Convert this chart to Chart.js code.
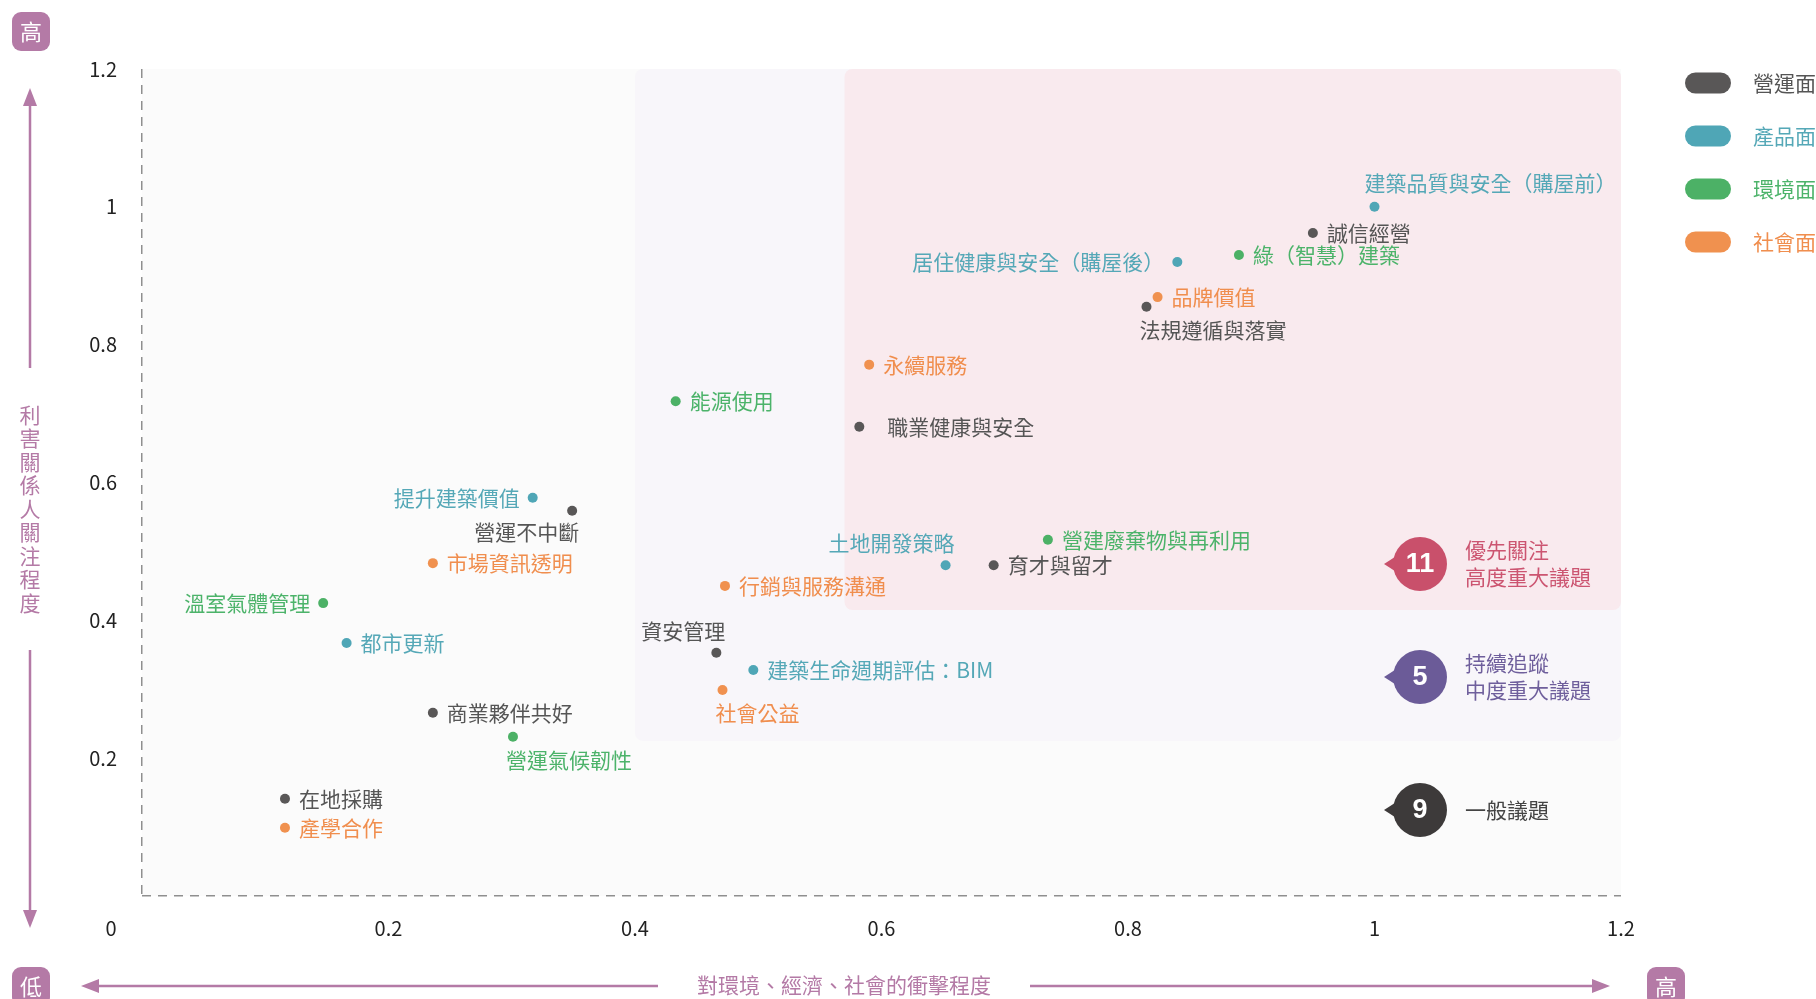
<!DOCTYPE html>
<html lang="zh-Hant">
<head>
<meta charset="utf-8">
<title>重大性議題矩陣</title>
<script src="https://cdn.jsdelivr.net/npm/chart.js@4.4.1/dist/chart.umd.min.js"></script>
<style>
html, body { margin: 0; padding: 0; background: #fff; overflow: hidden; }
#matrix-wrap { width: 1816px; height: 999px; }
canvas { display: block; }
</style>
</head>
<body>
<div id="matrix-wrap"><canvas id="matrix" width="1816" height="999"></canvas></div>
<script>
// ---- data ----
var categoryNames = ['營運面', '產品面', '環境面', '社會面'];

var topicNames = [
    '建築品質與安全（購屋前）', '誠信經營', '綠（智慧）建築', '居住健康與安全（購屋後）',
    '品牌價值', '法規遵循與落實', '永續服務', '能源使用', '職業健康與安全',
    '提升建築價值', '營運不中斷', '營建廢棄物與再利用', '土地開發策略', '育才與留才',
    '市場資訊透明', '行銷與服務溝通', '溫室氣體管理', '都市更新', '資安管理',
    '建築生命週期評估：BIM', '社會公益', '商業夥伴共好', '營運氣候韌性', '在地採購', '產學合作'
];
// x: 對環境、經濟、社會的衝擊程度
var impactValues = [
    1.0, 0.95, 0.89, 0.84,
    0.824, 0.815, 0.59, 0.433, 0.582,
    0.317, 0.349, 0.735, 0.652, 0.691,
    0.236, 0.473, 0.147, 0.166, 0.466,
    0.496, 0.471, 0.236, 0.301, 0.116, 0.116
];
// y: 利害關係人關注程度
var concernValues = [
    1.0, 0.962, 0.93, 0.92,
    0.869, 0.855, 0.771, 0.718, 0.681,
    0.578, 0.559, 0.517, 0.48, 0.48,
    0.483, 0.45, 0.425, 0.367, 0.353,
    0.328, 0.299, 0.266, 0.231, 0.141, 0.099
];
// index into categoryNames
var topicCategory = [
    1, 0, 2, 1,
    3, 0, 3, 2, 0,
    1, 0, 2, 1, 0,
    3, 3, 2, 1, 0,
    1, 3, 0, 2, 0, 3
];
// where each label sits next to its dot
var labelSide = [
    'a', 'r', 'r', 'l',
    'r', 'b', 'r', 'r', 'r2',
    'l', 'bl', 'r', 'al', 'r',
    'r', 'r', 'l', 'r', 'al',
    'r', 'b', 'r', 'b', 'r', 'r'
];

var xTickValues = [0, 0.2, 0.4, 0.6, 0.8, 1, 1.2];
var xTickLabels = ['0', '0.2', '0.4', '0.6', '0.8', '1', '1.2'];
var yTickValues = [0, 0.2, 0.4, 0.6, 0.8, 1, 1.2];
var yTickLabels = ['', '0.2', '0.4', '0.6', '0.8', '1', '1.2'];

var tierCounts = ['11', '5', '9'];
var tierLabels = [['優先關注', '高度重大議題'], ['持續追蹤', '中度重大議題'], ['一般議題']];

// zone thresholds (x from, y from) for the shaded areas
var highZone = [0.57, 0.415];
var midZone = [0.4, 0.225];

// ---- styling ----
var FONT = '"Noto Sans CJK TC", "Noto Sans", sans-serif';
var dotColors = ['#595757', '#4fa6b6', '#4cb166', '#f0914f'];
var textColors = ['#555555', '#55a8b7', '#4cb36a', '#f08e4e'];
var tierColors = ['#c9506b', '#6b5b98', '#3d3a3a'];
var tierTextColors = ['#cc5571', '#6f5f9c', '#444444'];
var accent = '#b47aa6';

function buildDatasets() {
    var sets = [];
    for (var c = 0; c < categoryNames.length; c++) {
        var pts = [];
        for (var i = 0; i < topicNames.length; i++) {
            if (topicCategory[i] !== c) continue;
            pts.push({ x: impactValues[i], y: concernValues[i], name: topicNames[i], side: labelSide[i] });
        }
        sets.push({
            label: categoryNames[c],
            data: pts,
            backgroundColor: dotColors[c],
            borderWidth: 0,
            pointRadius: 5,
            pointHoverRadius: 5
        });
    }
    return sets;
}

function roundRect(ctx, x, y, w, h, r) {
    ctx.beginPath();
    ctx.roundRect(x, y, w, h, r);
    ctx.fill();
}

// shaded zones behind the dots
var zonePlugin = {
    id: 'zones',
    beforeDraw: function(chart) {
        var ctx = chart.ctx, a = chart.chartArea;
        var sx = chart.scales.x, sy = chart.scales.y;
        ctx.save();
        ctx.fillStyle = '#fbfbfb';
        ctx.fillRect(a.left, a.top, a.right - a.left, a.bottom - a.top);
        var mx = sx.getPixelForValue(midZone[0]), my = sy.getPixelForValue(midZone[1]);
        ctx.fillStyle = '#f8f6fa';
        roundRect(ctx, mx, a.top, a.right - mx, my - a.top, 8);
        var hx = sx.getPixelForValue(highZone[0]), hy = sy.getPixelForValue(highZone[1]);
        ctx.fillStyle = '#f9eaee';
        roundRect(ctx, hx, a.top, a.right - hx, hy - a.top, 8);
        ctx.restore();
    }
};

// topic labels next to each dot
var labelPlugin = {
    id: 'topicLabels',
    afterDatasetsDraw: function(chart) {
        var ctx = chart.ctx;
        ctx.save();
        ctx.font = '21px ' + FONT;
        ctx.textBaseline = 'middle';
        chart.data.datasets.forEach(function(ds, di) {
            var meta = chart.getDatasetMeta(di);
            ctx.fillStyle = textColors[di];
            ds.data.forEach(function(p, j) {
                var el = meta.data[j];
                var x = el.x, y = el.y;
                switch (p.side) {
                    case 'l':  ctx.textAlign = 'right'; ctx.fillText(p.name, x - 13, y); break;
                    case 'a':  ctx.textAlign = 'left';  ctx.fillText(p.name, x - 10, y - 24); break;
                    case 'al': ctx.textAlign = 'right'; ctx.fillText(p.name, x + 9, y - 22); break;
                    case 'b':  ctx.textAlign = 'left';  ctx.fillText(p.name, x - 7, y + 23); break;
                    case 'bl': ctx.textAlign = 'right'; ctx.fillText(p.name, x + 7, y + 21); break;
                    case 'r2': ctx.textAlign = 'left';  ctx.fillText(p.name, x + 28, y); break;
                    default:   ctx.textAlign = 'left';  ctx.fillText(p.name, x + 14, y);
                }
            });
        });
        ctx.restore();
    }
};

function arrowHead(ctx, tipX, tipY, dir) {
    // dir: 'up' | 'down' | 'left' | 'right'
    var L = 18, W = 7;
    ctx.beginPath();
    ctx.moveTo(tipX, tipY);
    if (dir === 'up')    { ctx.lineTo(tipX - W, tipY + L); ctx.lineTo(tipX + W, tipY + L); }
    if (dir === 'down')  { ctx.lineTo(tipX - W, tipY - L); ctx.lineTo(tipX + W, tipY - L); }
    if (dir === 'left')  { ctx.lineTo(tipX + L, tipY - W); ctx.lineTo(tipX + L, tipY + W); }
    if (dir === 'right') { ctx.lineTo(tipX - L, tipY - W); ctx.lineTo(tipX - L, tipY + W); }
    ctx.closePath();
    ctx.fill();
}

function cornerBadge(ctx, x, y, txt) {
    ctx.fillStyle = accent;
    roundRect(ctx, x, y, 38, 39, 9);
    ctx.fillStyle = '#fff';
    ctx.font = '22px ' + FONT;
    ctx.textAlign = 'center';
    ctx.textBaseline = 'middle';
    ctx.fillText(txt, x + 19, y + 20);
}

// legend, tier badges, axis arrows and titles
var decorPlugin = {
    id: 'decor',
    afterDraw: function(chart) {
        var ctx = chart.ctx;
        ctx.save();

        // origin label, pulled left of the axis like the original
        ctx.font = '20px ' + FONT;
        ctx.fillStyle = '#222';
        ctx.textAlign = 'center';
        ctx.textBaseline = 'middle';
        ctx.fillText(xTickLabels[0], 111, 928);

        // category legend
        ctx.font = '21px ' + FONT;
        ctx.textAlign = 'left';
        for (var c = 0; c < categoryNames.length; c++) {
            var cy = 83 + c * 53;
            ctx.fillStyle = dotColors[c];
            roundRect(ctx, 1685, cy - 10.5, 46, 21, 10.5);
            ctx.fillStyle = textColors[c];
            ctx.fillText(categoryNames[c], 1753, cy);
        }

        // tier badges
        var badgeY = [564, 677, 810];
        for (var t = 0; t < tierCounts.length; t++) {
            var bx = 1420, by = badgeY[t];
            ctx.fillStyle = tierColors[t];
            ctx.beginPath();
            ctx.arc(bx, by, 27, 0, Math.PI * 2);
            ctx.fill();
            ctx.beginPath();
            ctx.moveTo(bx - 36, by);
            ctx.lineTo(bx - 22, by - 9);
            ctx.lineTo(bx - 22, by + 9);
            ctx.closePath();
            ctx.fill();
            ctx.fillStyle = '#fff';
            ctx.font = 'bold 27px "Liberation Sans", Arial, sans-serif';
            ctx.textAlign = 'center';
            ctx.fillText(tierCounts[t], bx, by + 1);
            ctx.fillStyle = tierTextColors[t];
            ctx.font = '21px ' + FONT;
            ctx.textAlign = 'left';
            var lines = tierLabels[t];
            var y0 = by - (lines.length - 1) * 13.5;
            for (var k = 0; k < lines.length; k++) {
                ctx.fillText(lines[k], 1465, y0 + k * 27);
            }
        }

        // y-axis decoration
        cornerBadge(ctx, 12, 12, '高');
        ctx.strokeStyle = accent;
        ctx.fillStyle = accent;
        ctx.lineWidth = 2.5;
        ctx.beginPath();
        ctx.moveTo(30, 100); ctx.lineTo(30, 368);
        ctx.moveTo(30, 650); ctx.lineTo(30, 915);
        ctx.stroke();
        arrowHead(ctx, 30, 88, 'up');
        arrowHead(ctx, 30, 928, 'down');
        var yTitle = '利害關係人關注程度';
        ctx.font = '21px ' + FONT;
        ctx.textAlign = 'center';
        ctx.textBaseline = 'middle';
        for (var i = 0; i < yTitle.length; i++) {
            ctx.fillText(yTitle[i], 30, 415 + i * 23.5);
        }

        // x-axis decoration
        cornerBadge(ctx, 12, 967, '低');
        cornerBadge(ctx, 1647, 967, '高');
        ctx.strokeStyle = accent;
        ctx.fillStyle = accent;
        ctx.beginPath();
        ctx.moveTo(95, 986); ctx.lineTo(658, 986);
        ctx.moveTo(1030, 986); ctx.lineTo(1597, 986);
        ctx.stroke();
        arrowHead(ctx, 81, 986, 'left');
        arrowHead(ctx, 1610, 986, 'right');
        ctx.font = '21px ' + FONT;
        ctx.textAlign = 'center';
        ctx.fillText('對環境、經濟、社會的衝擊程度', 844, 985);

        ctx.restore();
    }
};

function buildScale(values, labels, isX) {
    return {
        type: 'linear',
        min: values[0],
        max: values[values.length - 1],
        afterBuildTicks: function(scale) {
            scale.ticks = values.map(function(v) { return { value: v }; });
        },
        afterFit: function(scale) {
            if (isX) scale.height = 103; else scale.width = 142;
        },
        ticks: {
            autoSkip: false,
            color: '#222',
            padding: isX ? 20 : 25,
            font: { family: FONT, size: 20 },
            callback: function(v) {
                var idx = values.indexOf(v);
                if (isX && idx === 0) return '';
                return idx >= 0 ? labels[idx] : '';
            }
        },
        // only the zero grid line is shown: it forms the dashed axis line
        grid: {
            display: true,
            drawTicks: false,
            lineWidth: 1.5,
            color: function(ctx) {
                return ctx.tick && ctx.tick.value === 0 ? '#8f8f8f' : 'rgba(0,0,0,0)';
            }
        },
        border: { display: false, dash: [9, 7] }
    };
}

var chart = new Chart(document.getElementById('matrix'), {
    type: 'scatter',
    data: { datasets: buildDatasets() },
    options: {
        responsive: false,
        devicePixelRatio: 1,
        animation: false,
        events: [],
        layout: { padding: { top: 69, right: 195, left: 0, bottom: 0 } },
        plugins: {
            legend: { display: false },
            tooltip: { enabled: false }
        },
        scales: {
            x: buildScale(xTickValues, xTickLabels, true),
            y: buildScale(yTickValues, yTickLabels, false)
        }
    },
    plugins: [zonePlugin, labelPlugin, decorPlugin]
});
</script>
</body>
</html>
